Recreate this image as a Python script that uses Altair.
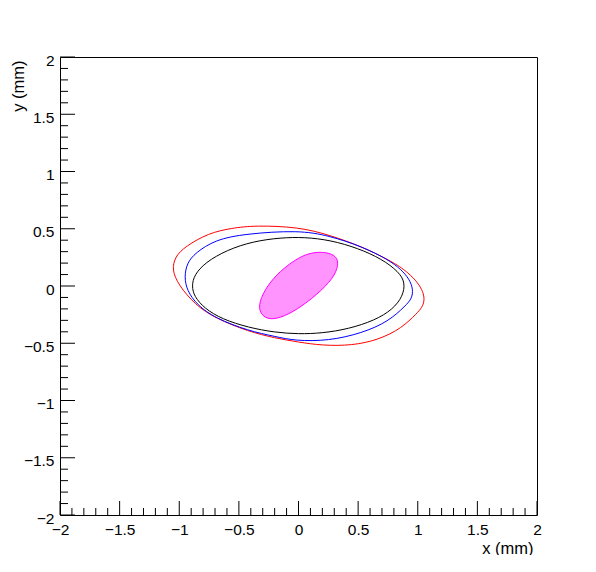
import altair as alt
import pandas as pd

# Contours (mm)
red_x = [0.923, 1.000, 1.045, 1.058, 1.035, 0.993, 0.867, 0.671, 0.450, 0.199, 0.0, -0.195, -0.419, -0.699,
         -0.867, -1.007, -1.062, -1.034, -0.950, -0.755, -0.559, -0.363, 0.0, 0.252, 0.532, 0.811]
red_y = [0.113, 0.030, -0.050, -0.125, -0.190, -0.237, -0.368, -0.470, -0.520, -0.520, -0.490, -0.455, -0.398, -0.281,
         -0.164, 0.010, 0.142, 0.258, 0.345, 0.462, 0.506, 0.529, 0.515, 0.448, 0.345, 0.200]

blue_x = [0.860, 0.930, 0.962, 0.950, 0.900, 0.755, 0.532, 0.252, -0.028, -0.195, -0.419, -0.699, -0.852,
          -0.935, -0.958, -0.935, -0.867, -0.699, -0.447, 0.0, 0.252, 0.532, 0.755]
blue_y = [0.145, 0.060, -0.030, -0.110, -0.170, -0.310, -0.412, -0.479, -0.479, -0.441, -0.392, -0.281, -0.164,
          -0.040, 0.080, 0.200, 0.288, 0.404, 0.456, 0.487, 0.441, 0.345, 0.229]

black_x = [0.895, 0.875, 0.790, 0.640, 0.420, 0.200, 0.0, -0.200, -0.419, -0.640, -0.790, -0.875, -0.895,
           -0.875, -0.783, -0.600, -0.380, -0.150, 0.050, 0.270, 0.500, 0.700, 0.840]
black_y = [0.030, -0.090, -0.205, -0.300, -0.375, -0.412, -0.420, -0.405, -0.363, -0.290, -0.195, -0.090, 0.000,
           0.095, 0.205, 0.315, 0.390, 0.422, 0.427, 0.400, 0.330, 0.235, 0.125]

mag_x = [0.238, 0.322, 0.336, 0.294, 0.154, -0.013, -0.154, -0.265, -0.336, -0.321, -0.237, -0.126, 0.014, 0.126]
mag_y = [0.296, 0.258, 0.185, 0.069, -0.077, -0.208, -0.281, -0.295, -0.223, -0.106, 0.039, 0.156, 0.258, 0.296]

# Axis ticks
major_ticks = [-2, -1.5, -1, -0.5, 0, 0.5, 1, 1.5, 2]
minor_ticks = [-1.9, -1.8, -1.7, -1.6, -1.4, -1.3, -1.2, -1.1, -0.9, -0.8, -0.7, -0.6,
               -0.4, -0.3, -0.2, -0.1, 0.1, 0.2, 0.3, 0.4, 0.6, 0.7, 0.8, 0.9,
               1.1, 1.2, 1.3, 1.4, 1.6, 1.7, 1.8, 1.9]

W, H = 477, 458
FONT = "Liberation Sans"


def curve_df(xs, ys):
    return pd.DataFrame({"x": xs, "y": ys, "i": list(range(len(xs)))})


xscale = alt.Scale(domain=[-2, 2], nice=False, zero=False)
yscale = alt.Scale(domain=[-2, 2], nice=False, zero=False)

label_expr = "replace(format(datum.value, '~g'), '-', '\u2212')"

xaxis = alt.Axis(values=major_ticks, title="x (mm)", grid=False, domain=False, ticks=False, tickSize=0,
                 labelPadding=7, labelFontSize=15.5, labelFont=FONT, labelColor="black",
                 labelExpr=label_expr, labelFlush=False, labelOverlap=False,
                 titleFont=FONT, titleFontSize=16.5, titleFontWeight="normal", titleColor="black",
                 titleAnchor="end", titleAlign="right", titleX=473, titleY=38,
                 titleBaseline="alphabetic")
yaxis = alt.Axis(values=major_ticks, title="y (mm)", grid=False, domain=False, ticks=False, tickSize=0,
                 labelPadding=6, labelFontSize=15.5, labelFont=FONT, labelColor="black",
                 labelExpr=label_expr, labelFlush=False, labelOverlap=False, labelOffset=3,
                 labelBaseline="middle",
                 titleFont=FONT, titleFontSize=16.5, titleFontWeight="normal", titleColor="black",
                 titleAngle=270, titleAlign="right", titleX=-37, titleY=3,
                 titleBaseline="alphabetic")

X = lambda: alt.X("x:Q", scale=xscale, axis=xaxis)
Y = lambda: alt.Y("y:Q", scale=yscale, axis=yaxis)


def line_layer(xs, ys, color, fill=None):
    kw = dict(interpolate="basis-closed", strokeWidth=1, stroke=color)
    if fill:
        kw.update(fill=fill, fillOpacity=0.42)
    return alt.Chart(curve_df(xs, ys)).mark_line(**kw).encode(
        x=X(), y=Y(), order=alt.Order("i:Q"))


xmaj = alt.Chart(pd.DataFrame({"x": major_ticks})).mark_rule(color="black", strokeWidth=1).encode(
    x=X(), y=alt.value(H), y2=alt.value(H - 14))
xmin = alt.Chart(pd.DataFrame({"x": minor_ticks})).mark_rule(color="black", strokeWidth=1).encode(
    x=X(), y=alt.value(H), y2=alt.value(H - 7))
ymaj = alt.Chart(pd.DataFrame({"y": major_ticks})).mark_rule(color="black", strokeWidth=1).encode(
    y=Y(), x=alt.value(0), x2=alt.value(15))
ymin = alt.Chart(pd.DataFrame({"y": minor_ticks})).mark_rule(color="black", strokeWidth=1).encode(
    y=Y(), x=alt.value(0), x2=alt.value(8))

chart = alt.layer(
    line_layer(mag_x, mag_y, "#ff00ff", fill="#ff00ff"),
    line_layer(red_x, red_y, "#ff0000"),
    line_layer(blue_x, blue_y, "#0000ff"),
    line_layer(black_x, black_y, "#000000"),
    xmaj, xmin, ymaj, ymin,
).properties(
    width=W, height=H,
    autosize=alt.AutoSizeParams(type="none"),
    padding={"left": 52, "top": 49, "right": 40, "bottom": 40},
    background="white",
).configure_view(stroke="black", strokeWidth=1)

chart.save("out.html", embed_options={"renderer": "svg", "actions": False})
